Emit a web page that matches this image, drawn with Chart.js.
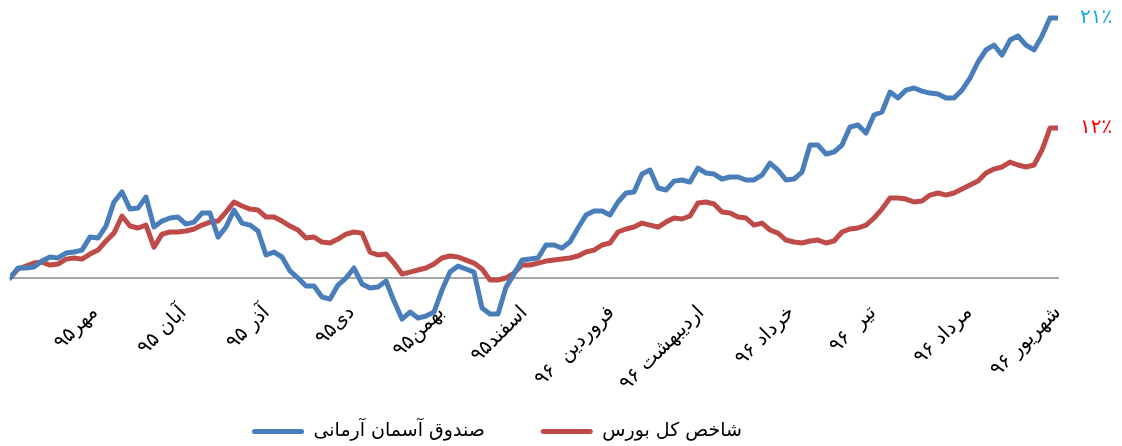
<!DOCTYPE html>
<html>
<head>
<meta charset="utf-8">
<script src="https://cdn.jsdelivr.net/npm/chart.js@4/dist/chart.umd.min.js"></script>
<style>
  html, body { margin: 0; padding: 0; background: #fff; }
  #wrap { width: 1122px; height: 446px; }
</style>
</head>
<body>
<div id="wrap"><canvas id="returnChart"></canvas></div>
<script>
// cumulative return (%) since start, one value per sampled trading day
const fundReturn = [
  0, 0.81, 0.81, 0.89, 1.37, 1.70, 1.62, 2.02, 2.10, 2.26,
  3.31, 3.23, 4.20, 6.14, 6.95, 5.57, 5.65, 6.54, 4.12, 4.60,
  4.85, 4.93, 4.36, 4.52, 5.25, 5.25, 3.31, 4.12, 5.49, 4.44,
  4.28, 3.80, 1.86, 2.10, 1.70, 0.57, 0, -0.65, -0.65, -1.53,
  -1.70, -0.57, 0, 0.81, -0.48, -0.81, -0.73, -0.24, -1.86, -3.31,
  -2.75, -3.23, -3.07, -2.75, -0.97, 0.48, 0.97, 0.73, 0.48, -2.42,
  -2.91, -2.91, -0.73, 0.32, 1.45, 1.53, 1.62, 2.67, 2.67, 2.42,
  2.91, 4.04, 5.09, 5.41, 5.41, 5.09, 6.14, 6.87, 6.95, 8.40,
  8.72, 7.27, 7.11, 7.83, 7.92, 7.75, 8.88, 8.48, 8.40, 8.00,
  8.16, 8.16, 7.92, 7.92, 8.32, 9.29, 8.72, 7.92, 8.00, 8.56,
  10.74, 10.74, 10.02, 10.18, 10.74, 12.20, 12.36, 11.71, 13.17, 13.41,
  15.02, 14.54, 15.18, 15.35, 15.10, 14.94, 14.86, 14.54, 14.54, 15.18,
  16.15, 17.45, 18.42, 18.82, 18.01, 19.22, 19.55, 18.82, 18.42, 19.55,
  21.0, 21.0
];
const indexReturn = [
  0, 0.73, 0.97, 1.21, 1.29, 1.05, 1.13, 1.53, 1.62, 1.53,
  1.94, 2.26, 2.99, 3.63, 5.01, 4.20, 4.04, 4.28, 2.50, 3.55,
  3.72, 3.72, 3.80, 3.96, 4.28, 4.52, 4.60, 5.33, 6.14, 5.82,
  5.57, 5.49, 4.93, 4.93, 4.60, 4.20, 3.88, 3.23, 3.31, 2.91,
  2.83, 3.15, 3.55, 3.72, 3.63, 2.10, 1.86, 1.94, 1.21, 0.32,
  0.48, 0.65, 0.81, 1.13, 1.62, 1.78, 1.70, 1.45, 1.21, 0.73,
  -0.16, -0.16, 0, 0.40, 1.05, 1.05, 1.21, 1.37, 1.45, 1.53,
  1.62, 1.78, 2.10, 2.26, 2.67, 2.83, 3.72, 3.96, 4.12, 4.44,
  4.28, 4.12, 4.52, 4.85, 4.77, 5.01, 6.06, 6.14, 5.98, 5.33,
  5.25, 4.93, 4.85, 4.28, 4.44, 3.88, 3.63, 3.07, 2.91, 2.83,
  2.99, 3.07, 2.83, 2.99, 3.72, 3.96, 4.04, 4.28, 4.85, 5.57,
  6.46, 6.46, 6.38, 6.14, 6.22, 6.70, 6.87, 6.70, 6.87, 7.19,
  7.51, 7.83, 8.48, 8.80, 8.97, 9.37, 9.13, 8.97, 9.13, 10.34,
  12.12, 12.12
];

// month labels and where they sit along the day index
const monthTicks = [10.6, 21.7, 32.1, 42.7, 53.9, 64.3, 75.2, 86.4, 97.7, 107.9, 119.9, 131];
const monthLabels = [
  'مهر۹۵', 'آبان ۹۵', 'آذر ۹۵', 'دی۹۵', 'بهمن۹۵', 'اسفند۹۵',
  'فروردین  ۹۶', 'اردیبهشت ۹۶', 'خرداد ۹۶', 'تیر  ۹۶', 'مرداد ۹۶', 'شهریور ۹۶'
];

const seriesNames = ['صندوق آسمان آرمانی', 'شاخص کل بورس'];
const endLabels = ['۲۱٪', '۱۲٪'];

const lineColors = ['#4A7EBB', '#BE4B48'];
const endColors = ['#1BA8E6', '#FF0000'];
const fontFamily = "'DejaVu Sans', sans-serif";

const days = fundReturn.map((v, i) => i);

// percent labels right after the last point of each line
const endLabelPlugin = {
  id: 'endLabels',
  afterDatasetsDraw(chart) {
    const ctx = chart.ctx;
    chart.data.datasets.forEach((ds, i) => {
      const meta = chart.getDatasetMeta(i);
      const pt = meta.data[meta.data.length - 1];
      ctx.save();
      ctx.font = '20px ' + fontFamily;
      ctx.fillStyle = endColors[i];
      ctx.textAlign = 'left';
      ctx.textBaseline = 'middle';
      ctx.fillText(endLabels[i], pt.x + 22, pt.y);
      ctx.restore();
    });
  }
};

// nudge the legend a little left/down like the original
const legendShift = {
  id: 'legendShift',
  afterLayout(chart) {
    const l = chart.legend;
    l.left -= 37; l.right -= 37;
    l.top -= 34; l.bottom = chart.height;
  }
};

const ctx = document.getElementById('returnChart');
new Chart(ctx, {
  type: 'line',
  data: {
    labels: days,
    datasets: [
      {
        label: seriesNames[0],
        data: fundReturn,
        borderColor: lineColors[0],
        backgroundColor: lineColors[0],
        borderWidth: 5,
        pointRadius: 0,
        tension: 0,
        borderJoinStyle: 'round',
        borderCapStyle: 'round'
      },
      {
        label: seriesNames[1],
        data: indexReturn,
        borderColor: lineColors[1],
        backgroundColor: lineColors[1],
        borderWidth: 5,
        pointRadius: 0,
        tension: 0,
        borderJoinStyle: 'round',
        borderCapStyle: 'round'
      }
    ]
  },
  options: {
    responsive: true,
    maintainAspectRatio: false,
    animation: false,
    layout: {
      padding: { left: 10, top: 10, right: 64, bottom: 0 }
    },
    scales: {
      x: {
        type: 'linear',
        min: 0,
        max: 131,
        position: { y: 0 },
        afterBuildTicks: axis => {
          axis.ticks = monthTicks.map(v => ({ value: v }));
        },
        ticks: {
          autoSkip: false,
          minRotation: 45,
          maxRotation: 45,
          padding: 23,
          color: '#000',
          font: { family: fontFamily, size: 20 },
          callback: (val, index) => monthLabels[index]
        },
        grid: { display: false, drawTicks: false },
        border: { display: true, color: '#A6A6A6', width: 2 }
      },
      y: {
        display: false,
        min: -9.85,
        max: 21.65
      }
    },
    plugins: {
      legend: {
        position: 'bottom',
        maxHeight: 46,
        labels: {
          boxWidth: 52,
          boxHeight: 5,
          padding: 56,
          useBorderRadius: true,
          borderRadius: 2.5,
          color: '#000',
          font: { family: fontFamily, size: 19 },
          generateLabels: chart => Chart.defaults.plugins.legend.labels.generateLabels(chart)
            .map(item => Object.assign(item, { lineWidth: 0 }))
        }
      },
      tooltip: { enabled: false }
    }
  },
  plugins: [endLabelPlugin, legendShift]
});
</script>
</body>
</html>
